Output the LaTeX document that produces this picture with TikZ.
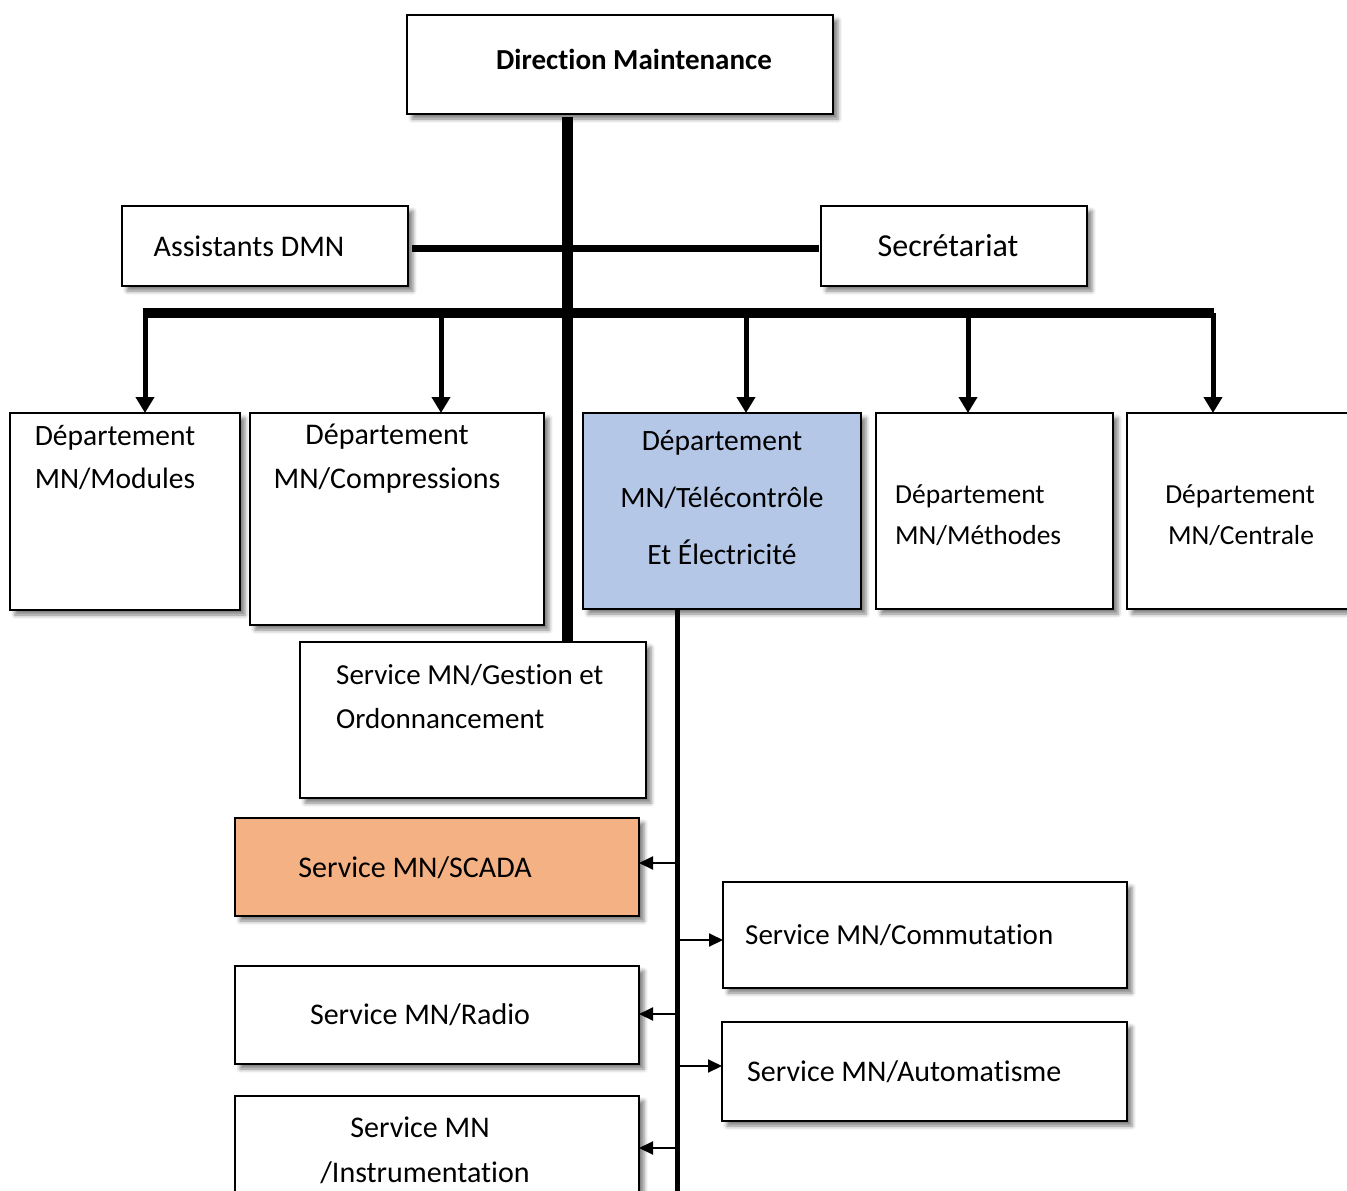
\documentclass[tikz,border=0pt]{standalone}
\usepackage{fontspec}
\setmainfont{Carlito}[Ligatures=NoCommon, Contextuals=NoAlternate]
\usetikzlibrary{arrows.meta,shadows.blur}

\definecolor{deptblue}{HTML}{B4C7E7}
\definecolor{scadaorange}{HTML}{F4B183}

\newcommand\fsz[1]{\fontsize{#1}{#1}\selectfont}

\tikzset{
  box/.style={draw=black, line width=1.8pt, fill=white, rectangle,
    inner sep=0pt, outer sep=0pt, anchor=north west,
    blur shadow={shadow xshift=5pt, shadow yshift=-5pt,
      shadow blur radius=4pt, shadow opacity=50}},
  txt/.style={inner sep=0pt, anchor=base, text=black},
  txtl/.style={inner sep=0pt, anchor=base west, text=black},
  trunk/.style={line width=11pt},
  bar/.style={line width=10pt},
  link/.style={line width=7pt},
  drop/.style={line width=5pt, -{Triangle[width=18pt,length=16pt]}},
  spine/.style={line width=5pt},
  branch/.style={line width=2pt, -{Triangle[width=13pt,length=14pt]}},
}

\begin{document}
\begin{tikzpicture}[x=1pt,y=-1pt]
\useasboundingbox (0,0) rectangle (1347,1191);

% ---- boxes ----
\node[box, minimum width=426pt, minimum height=99pt] (dir) at (407,15) {};
\node[box, minimum width=286pt, minimum height=80pt] (asst) at (122,206) {};
\node[box, minimum width=266pt, minimum height=80pt] (secr) at (821,206) {};
\node[box, minimum width=230pt, minimum height=197pt] (modules) at (10,413) {};
\node[box, minimum width=294pt, minimum height=212pt] (compr) at (250,413) {};
\node[box, fill=deptblue, minimum width=278pt, minimum height=196pt] (tele) at (583,413) {};
\node[box, minimum width=237pt, minimum height=196pt] (meth) at (876,413) {};
\node[box, minimum width=240pt, minimum height=196pt] (centr) at (1127,413) {};
\node[box, minimum width=346pt, minimum height=156pt] (gest) at (300,642) {};
\node[box, fill=scadaorange, minimum width=404pt, minimum height=98pt] (scada) at (235,818) {};
\node[box, minimum width=404pt, minimum height=106pt] (comm) at (723,882) {};
\node[box, minimum width=404pt, minimum height=98pt] (radio) at (235,966) {};
\node[box, minimum width=405pt, minimum height=99pt] (auto) at (722,1022) {};
\node[box, minimum width=404pt, minimum height=120pt] (instr) at (235,1096) {};

% ---- labels ----
\node[txt, font=\fsz{29}\bfseries] (tdir) at (634,69) {Direction Maintenance};
\node[txt, font=\fsz{30}] (tasst) at (249,256) {Assistants DMN};
\node[txt, font=\fsz{32}] (tsecr) at (948,256) {Secrétariat};
\node[txt, font=\fsz{29.5}] (tmod1) at (115,445) {Département};
\node[txt, font=\fsz{29.5}] (tmod2) at (115,488) {MN/Modules};
\node[txt, font=\fsz{30}] (tcmp1) at (387,444) {Département};
\node[txt, font=\fsz{30}] (tcmp2) at (387,488) {MN/Compressions};
\node[txt, font=\fsz{29.5}] (ttel1) at (722,450) {Département};
\node[txt, font=\fsz{29.5}] (ttel2) at (722,507) {MN/Télécontrôle};
\node[txt, font=\fsz{29.5}] (ttel3) at (722,564) {Et Électricité};
\node[txtl, font=\fsz{27.5}] (tmet1) at (895,503) {Département};
\node[txtl, font=\fsz{27.5}] (tmet2) at (895,544) {MN/Méthodes};
\node[txt, font=\fsz{27.5}] (tcen1) at (1240,503) {Département};
\node[txt, font=\fsz{27.5}] (tcen2) at (1241,544) {MN/Centrale};
\node[txtl, font=\fsz{29}] (tges1) at (336,684) {Service MN/Gestion et};
\node[txtl, font=\fsz{29}] (tges2) at (336,728) {Ordonnancement};
\node[txt, font=\fsz{30}] (tsca) at (415,877) {Service MN/SCADA};
\node[txtl, font=\fsz{29}] (tcom) at (745,944) {Service MN/Commutation};
\node[txt, font=\fsz{30}] (trad) at (420,1024) {Service MN/Radio};
\node[txtl, font=\fsz{30}] (taut) at (747,1081) {Service MN/Automatisme};
\node[txt, font=\fsz{30}] (tins1) at (420,1137) {Service MN};
\node[txt, font=\fsz{30}] (tins2) at (425,1182) {/Instrumentation};

% ---- connectors ----
\coordinate (trunktop) at (567,117);
\draw[trunk] (trunktop) -- (trunktop |- gest.north);

\draw[link, shorten <=4pt, shorten >=2pt]
  ([yshift=-2pt]asst.east) -- ([yshift=-2pt]secr.west);

\coordinate (barL) at (145,313);
\coordinate (barR) at (1214,313);
\draw[bar] ([xshift=-2.5pt]barL) -- (barR);

\coordinate (d1) at (145,313);
\coordinate (d2) at (441,313);
\coordinate (d3) at (746,313);
\coordinate (d4) at (968,313);
\coordinate (d5) at (1213,313);
\draw[drop] (d1) -- (d1 |- modules.north);
\draw[drop] (d2) -- (d2 |- compr.north);
\draw[drop] (d3) -- (d3 |- tele.north);
\draw[drop] (d4) -- (d4 |- meth.north);
\draw[drop] (d5) -- (d5 |- centr.north);

\coordinate (vtop) at (677,609);
\coordinate (vbot) at (677,1200);
\draw[spine] (vtop) -- (vbot);

\coordinate (s1) at (677,863);
\coordinate (s2) at (677,940);
\coordinate (s3) at (677,1014);
\coordinate (s4) at (677,1066);
\coordinate (s5) at (677,1148);
\draw[branch] (s1) -- (s1 -| scada.east);
\draw[branch] (s2) -- (s2 -| comm.west);
\draw[branch] (s3) -- (s3 -| radio.east);
\draw[branch] (s4) -- (s4 -| auto.west);
\draw[branch] (s5) -- (s5 -| instr.east);
\end{tikzpicture}
\end{document}
